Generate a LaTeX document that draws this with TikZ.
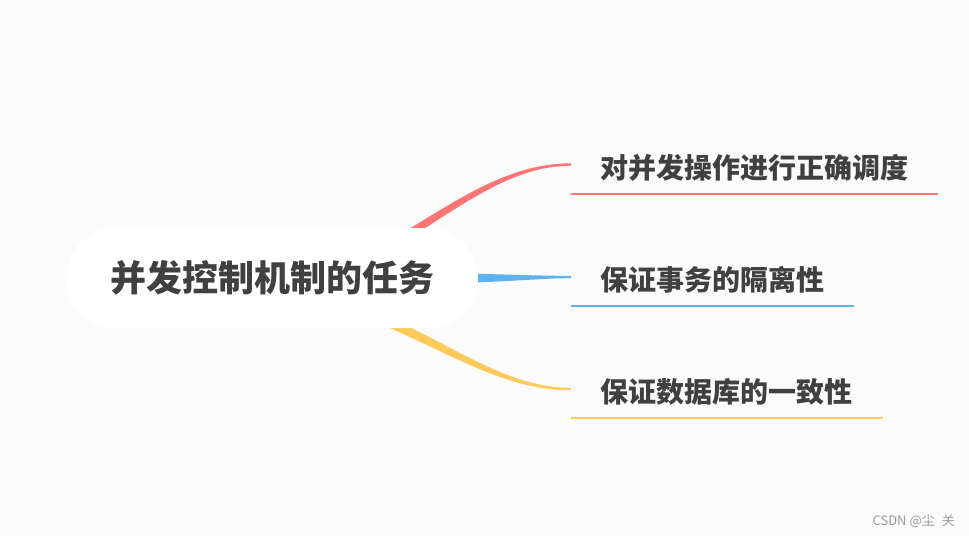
\documentclass[tikz,border=0pt]{standalone}
\usepackage{fontspec}
\newfontfamily\cjk{Noto Sans CJK SC}
\usetikzlibrary{calc}
\definecolor{bg}{HTML}{FBFBFB}
\definecolor{txt}{HTML}{404040}
\definecolor{cred}{HTML}{FF7575}
\definecolor{cblue}{HTML}{5DB3EF}
\definecolor{cyel}{HTML}{FFCA5A}
\definecolor{wm}{HTML}{9A9A9A}
\tikzset{
  rootbox/.style={fill=white, rounded corners=50pt, minimum width=412pt, minimum height=100pt, inner sep=0pt, font=\cjk\bfseries\fontsize{36}{40}\selectfont, text=txt},
  leaf/.style={anchor=west, inner sep=0pt, font=\cjk\bfseries\fontsize{28}{32}\selectfont, text=txt},
  uline/.style={line width=2.4pt},
}
\begin{document}
\begin{tikzpicture}[x=1pt,y=-1pt]
\useasboundingbox[fill=bg] (0,0) rectangle (969,536);
% end coordinates of the branches
\coordinate (e1) at (571,164.5);
\coordinate (e2) at (571,277);
\coordinate (e3) at (571,389);
% tapered branches
\fill[cred] (396,237) .. controls (460,198) and (510,163.3) .. ($(e1)+(0,-1.2)$) -- ($(e1)+(0,1.2)$) .. controls (512,165.7) and (463,205) .. (400,244) -- cycle;
\fill[cblue] (440,273) .. controls (500,274) and (540,276) .. ($(e2)+(0,-1.2)$) -- ($(e2)+(0,1.2)$) .. controls (540,278) and (500,283) .. (440,283) -- cycle;
\fill[cyel] (395,320) .. controls (463,352) and (512,388) .. ($(e3)+(0,-1.2)$) -- ($(e3)+(0,1.2)$) .. controls (510,390.5) and (460,359) .. (390,328) -- cycle;
% root
\node[rootbox] (root) at (272,278) {并发控制机制的任务};
% leaves
\node[leaf] (t1) at (600,168) {对并发操作进行正确调度};
\node[leaf] (t2) at (600,280) {保证事务的隔离性};
\node[leaf] (t3) at (600,392) {保证数据库的一致性};
\draw[uline, cred] (571,194) -- (938,194);
\draw[uline, cblue] (571,306) -- (854,306);
\draw[uline, cyel] (571,418) -- (883,418);
% watermark
\node[anchor=east, inner sep=0pt, text=wm, font=\cjk\fontsize{13}{15}\selectfont] (wmk) at (955,521) {CSDN @尘\hspace{7pt}关};
\end{tikzpicture}
\end{document}
